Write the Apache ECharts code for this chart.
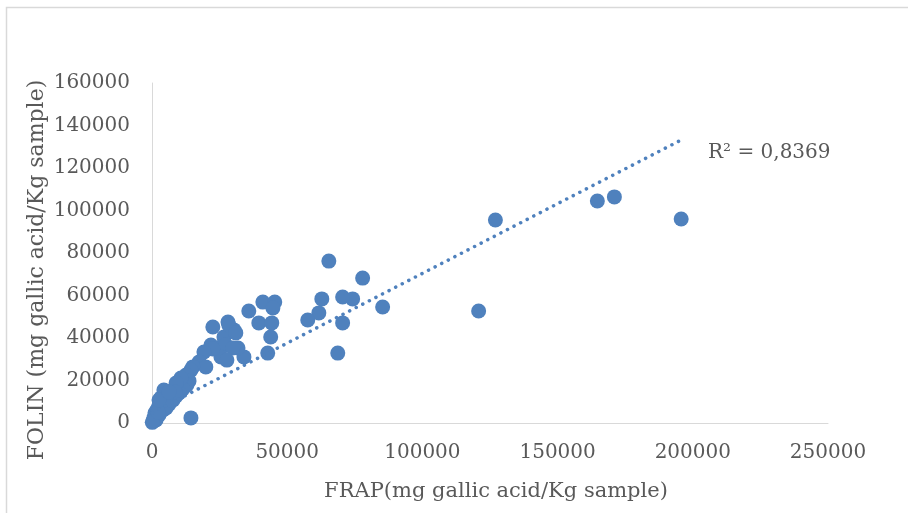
<!DOCTYPE html>
<html><head><meta charset="utf-8">
<script src="https://cdn.jsdelivr.net/npm/echarts@6/dist/echarts.min.js"></script>
<style>html,body{margin:0;padding:0;background:#fff}#c{width:908px;height:513px}</style>
</head><body><div id="c"></div>
<script>
// FRAP values (x, mg gallic acid/Kg sample)
const frapValues = [
  195700,171000,164700,127000,120800,85300,77900,74200,70500,70500,68700,65400,62800,61700,57600,
  41000,45400,44700,35800,39500,44300,43900,42800,34000,
  28100,22500,30300,26600,21800,25500,31800,28400,31000,27300,29900,25500,27700,22500,19200,17400,19900,15100,14400,
  12600,11800,13700,10700,9200,12900,11400,7800,10000,7000,8900,5500,7800,4400,6300,3300,5200,2600,4100,1800,2600,1100,1500,700,400,100,
  14400,10700,8900,5200,3300,2200,7000,8500,4400,2600,6300
];
// FOLIN values (y, mg gallic acid/Kg sample)
const folinValues = [
  96000,106400,104500,95500,52700,54600,68200,58400,59300,47100,32900,76200,58400,51800,48500,
  56900,56900,54100,52700,47100,47100,40500,32900,31100,
  47500,45200,43800,40500,36700,35800,35300,46100,42400,36700,35300,31100,29600,34800,33400,28700,26400,26400,24900,
  22600,20200,19800,18800,16900,17900,16000,15500,14100,14600,12700,12200,10800,10800,8900,9400,7100,8500,6100,6100,3800,4700,1400,2400,900,300,
  2400,21200,18800,13200,11800,5200,10800,14600,15500,10800,14600
];
// Linear trendline (FOLIN = slope * FRAP + intercept)
const trendSlope = 0.656;
const trendIntercept = 4800;
const r2Label = 'R² = 0,8369';
const xTicks = [0, 50000, 100000, 150000, 200000, 250000];
const yTicks = [0, 20000, 40000, 60000, 80000, 100000, 120000, 140000, 160000];
const xTitle = 'FRAP(mg gallic acid/Kg sample)';
const yTitle = 'FOLIN (mg gallic acid/Kg sample)';

const pts = frapValues.map((x, i) => [x, folinValues[i]]);
const xMin = Math.min(...frapValues), xMax = Math.max(...frapValues);
const trend = [[xMin, trendSlope * xMin + trendIntercept], [xMax, trendSlope * xMax + trendIntercept]];

const FONT = 'DejaVu Serif';
const TXT = '#595959';
const chart = echarts.init(document.getElementById('c'), null, {renderer: 'canvas'});
chart.setOption({
  animation: false,
  backgroundColor: '#fff',
  grid: {left: 152, right: 80, top: 83, bottom: 90, containLabel: false},
  xAxis: {
    type: 'value', min: xTicks[0], max: xTicks[xTicks.length - 1], interval: xTicks[1] - xTicks[0],
    axisLine: {show: true, lineStyle: {color: '#d9d9d9', width: 1}},
    axisTick: {show: false}, splitLine: {show: false},
    axisLabel: {color: TXT, fontFamily: FONT, fontSize: 20, margin: 20, formatter: v => String(v)}
  },
  yAxis: {
    type: 'value', min: yTicks[0], max: yTicks[yTicks.length - 1], interval: yTicks[1] - yTicks[0],
    axisLine: {show: true, lineStyle: {color: '#d9d9d9', width: 1}},
    axisTick: {show: false}, splitLine: {show: false},
    axisLabel: {color: TXT, fontFamily: FONT, fontSize: 20, margin: 22, formatter: v => String(v)}
  },
  series: [
    {type: 'scatter', data: pts, symbolSize: 15, itemStyle: {color: '#4f81bd', opacity: 1}, z: 2},
    {type: 'line', data: trend, symbol: 'none', z: 3,
     lineStyle: {color: '#4f81bd', width: 3.5, type: [0.1, 7.3], cap: 'round'}}
  ],
  graphic: [
    {type: 'rect', left: 4, top: 5, shape: {width: 1000, height: 1000}, style: {fill: 'none', stroke: '#d9d9d9', lineWidth: 1.5}, silent: true},
    {type: 'text', x: 37, y: 270, rotation: Math.PI / 2,
     style: {text: yTitle, fill: TXT, font: '22px "DejaVu Serif"', align: 'center', verticalAlign: 'middle'}},
    {type: 'text', x: 496, y: 492,
     style: {text: xTitle, fill: TXT, font: '21px "DejaVu Serif"', align: 'center', verticalAlign: 'middle'}},
    {type: 'text', x: 708, y: 153,
     style: {text: r2Label, fill: TXT, font: '20px "DejaVu Serif"', align: 'left', verticalAlign: 'middle'}}
  ]
});
</script></body></html>
